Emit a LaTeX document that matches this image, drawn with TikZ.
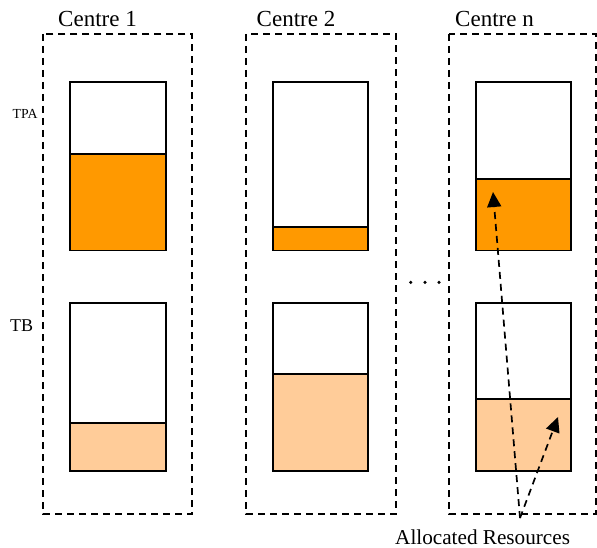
\documentclass[tikz,border=0pt]{standalone}
\usepackage{fontspec}
\setmainfont{Liberation Serif}
\usetikzlibrary{arrows.meta}
\definecolor{tpaor}{HTML}{FF9900}
\definecolor{tbor}{HTML}{FFCC99}
\begin{document}
\begin{tikzpicture}[x=1pt,y=-1pt,
  centrebox/.style={draw, line width=1.9pt, dash pattern=on 7pt off 5pt},
  level/.style={draw, line width=1.9pt},
  title/.style={font=\fontsize{23}{27}\selectfont, inner sep=0pt, anchor=base west},
  lab/.style={inner sep=0pt},
  alloc/.style={dashed, line width=1.7pt, dash pattern=on 7pt off 5pt,
     -{Triangle[length=15pt,width=14pt]}},
  dot/.style={circle, fill=black, inner sep=0pt, minimum size=3.5pt}]
\useasboundingbox (0,0) rectangle (597,548);

% titles
\node[title] (c1) at (58,26.5) {Centre 1};
\node[title] (c2) at (256.5,26.5) {Centre 2};
\node[title] (cn) at (455,26.5) {Centre n};

% row labels
\node[lab, font=\fontsize{13.8}{16}\selectfont, anchor=base west] (tpa) at (12.5,119) {TPA};
\node[lab, font=\fontsize{18}{21}\selectfont, anchor=base west] (tb) at (10,331) {TB};

% dashed centre boxes
\draw[centrebox] (43.3,34) rectangle (192.3,514);
\draw[centrebox] (246.3,34) rectangle (396,514);
\draw[centrebox] (449.3,34) rectangle (596,514);

% Centre 1
\fill[tpaor] (70.3,154) rectangle (165.7,250.5);
\draw[level] (70.3,81.7) rectangle (165.7,250.5);
\draw[level] (70.3,154) -- (165.7,154);
\fill[tbor] (70.3,423.3) rectangle (165.7,471);
\draw[level] (70.3,302.7) rectangle (165.7,471);
\draw[level] (70.3,423.3) -- (165.7,423.3);

% Centre 2
\fill[tpaor] (273.3,226.7) rectangle (368.3,250.5);
\draw[level] (273.3,81.7) rectangle (368.3,250.5);
\draw[level] (273.3,226.7) -- (368.3,226.7);
\fill[tbor] (273.3,374) rectangle (368.3,471);
\draw[level] (273.3,302.7) rectangle (368.3,471);
\draw[level] (273.3,374) -- (368.3,374);

% Centre n
\fill[tpaor] (475.7,179) rectangle (570.7,250.5);
\draw[level] (475.7,81.7) rectangle (570.7,250.5);
\draw[level] (475.7,179) -- (570.7,179);
\fill[tbor] (475.7,399) rectangle (570.7,471);
\draw[level] (475.7,302.7) rectangle (570.7,471);
\draw[level] (475.7,399) -- (570.7,399);

% dots
\node[dot] (d1) at (410.7,282.3) {};
\node[dot] (d2) at (425,282.3) {};
\node[dot] (d3) at (439,282.3) {};

% allocated resources
\node[lab, font=\fontsize{21.2}{25}\selectfont, anchor=base west] (ar) at (395,544) {Allocated Resources};
\coordinate (src) at (520,518);
\coordinate (tipa) at (493,192);
\coordinate (tipb) at (558,417);
\draw[alloc] (src) -- (tipa);
\draw[alloc] (src) -- (tipb);
\end{tikzpicture}
\end{document}
